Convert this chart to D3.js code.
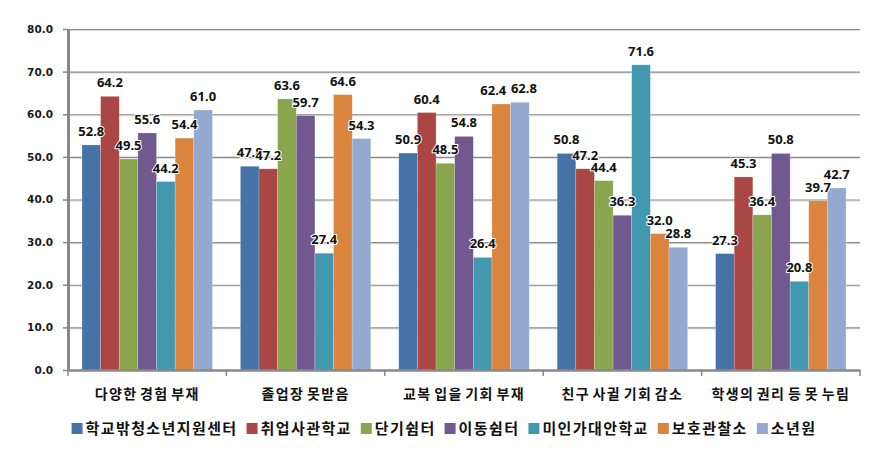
<!DOCTYPE html>
<html>
<head>
<meta charset="utf-8">
<script src="https://cdn.jsdelivr.net/npm/d3@7"></script>
<style>
  body { margin: 0; background: #fff; }
  svg { display: block; }
  .kr { font-family: "Noto Sans CJK KR", "Noto Sans", sans-serif; font-weight: bold; }
</style>
</head>
<body>
<div id="chart"></div>
<script>
var svgWidth = 885;
var svgHeight = 451;

// chart data
var categories = ["다양한 경험 부재", "졸업장 못받음", "교복 입을 기회 부재", "친구 사귈 기회 감소", "학생의 권리 등 못 누림"];
var seriesNames = ["학교밖청소년지원센터", "취업사관학교", "단기쉼터", "이동쉼터", "미인가대안학교", "보호관찰소", "소년원"];
var seriesColors = ["#4572A7", "#AA4643", "#89A54E", "#71588F", "#4198AF", "#DB843D", "#93A9CF"];
var values = [
  [52.8, 47.8, 50.9, 50.8, 27.3],
  [64.2, 47.2, 60.4, 47.2, 45.3],
  [49.5, 63.6, 48.5, 44.4, 36.4],
  [55.6, 59.7, 54.8, 36.3, 50.8],
  [44.2, 27.4, 26.4, 71.6, 20.8],
  [54.4, 64.6, 62.4, 32.0, 39.7],
  [61.0, 54.3, 62.8, 28.8, 42.7]
];
var yTicks = [0, 10, 20, 30, 40, 50, 60, 70, 80];

// small label nudges where the original pushed crowded labels apart ("series|category": px)
var labelNudge = { "보호관찰소|교복 입을 기회 부재": -8, "소년원|교복 입을 기회 부재": 4 };

var plot = { left: 68, right: 860, top: 29, bottom: 370 };

var svg = d3.select("#chart").append("svg")
  .attr("width", svgWidth)
  .attr("height", svgHeight);

var x0 = d3.scaleBand().domain(categories).range([plot.left, plot.right]).padding(0);
var x1 = d3.scaleBand().domain(seriesNames).range([0, x0.bandwidth()])
  .paddingInner(0).paddingOuter(0.75);
var y = d3.scaleLinear().domain([0, 80]).range([plot.bottom, plot.top]);

// gridlines
var grid = svg.append("g");
grid.selectAll("line.g2")
  .data(yTicks.slice(1))
  .enter().append("line")
  .attr("x1", plot.left).attr("x2", plot.right)
  .attr("y1", function(d) { return y(d) + 1.5; }).attr("y2", function(d) { return y(d) + 1.5; })
  .attr("stroke", "#dcdcdc").attr("stroke-width", 1);
grid.selectAll("line.g1")
  .data(yTicks.slice(1))
  .enter().append("line")
  .attr("x1", plot.left).attr("x2", plot.right)
  .attr("y1", function(d) { return y(d) + 0.5; }).attr("y2", function(d) { return y(d) + 0.5; })
  .attr("stroke", "#8a8a8a").attr("stroke-width", 1.2);

// bars
var rows = [];
seriesNames.forEach(function(s, i) {
  categories.forEach(function(c, j) {
    rows.push({ series: s, cat: c, value: values[i][j], color: seriesColors[i] });
  });
});

svg.append("g").selectAll("rect")
  .data(rows)
  .enter().append("rect")
  .attr("x", function(d) { return x0(d.cat) + x1(d.series); })
  .attr("y", function(d) { return y(d.value); })
  .attr("width", x1.bandwidth())
  .attr("height", function(d) { return y(0) - y(d.value); })
  .attr("fill", function(d) { return d.color; })
  .attr("stroke", "rgba(255,255,255,0.35)")
  .attr("stroke-width", 0.6);

// axes
var leftAxis = d3.axisLeft(y).tickValues(yTicks).tickFormat(d3.format(".1f")).tickSize(5).tickSizeOuter(0);
var yAxis = svg.append("g")
  .attr("transform", "translate(" + plot.left + ",0)")
  .call(leftAxis);
yAxis.select(".domain").attr("stroke", "#888").attr("stroke-width", 3);
yAxis.selectAll(".tick line").attr("stroke", "#888").attr("stroke-width", 1.5);
yAxis.selectAll(".tick text")
  .attr("x", -15)
  .style("font-family", "DejaVu Sans, sans-serif")
  .style("font-weight", "bold")
  .style("font-size", "10.5px")
  .attr("fill", "#1a1a1a");

var bottomAxis = d3.axisBottom(x0).tickSize(0).tickSizeOuter(0);
var xAxis = svg.append("g")
  .attr("transform", "translate(0," + plot.bottom + ")")
  .call(bottomAxis);
xAxis.select(".domain").attr("stroke", "#888").attr("stroke-width", 2.5);
xAxis.selectAll(".tick text")
  .attr("class", "kr")
  .attr("y", 0).attr("dy", "29px")
  .style("font-size", "14px")
  .style("letter-spacing", "1.4px")
  .style("word-spacing", "-2px")
  .attr("fill", "#111");

// category separator ticks
svg.append("g").selectAll("line")
  .data(categories.concat(["end"]))
  .enter().append("line")
  .attr("x1", function(d, i) { return i < categories.length ? x0(d) : plot.right; })
  .attr("x2", function(d, i) { return i < categories.length ? x0(d) : plot.right; })
  .attr("y1", plot.bottom).attr("y2", plot.bottom + 6)
  .attr("stroke", "#888").attr("stroke-width", 1.5);

// value labels
svg.append("g").selectAll("text")
  .data(rows)
  .enter().append("text")
  .attr("x", function(d) {
    var n = labelNudge[d.series + "|" + d.cat] || 0;
    return x0(d.cat) + x1(d.series) + x1.bandwidth() / 2 + n;
  })
  .attr("y", function(d) { return y(d.value) - 9; })
  .attr("text-anchor", "middle")
  .style("font-family", "Noto Sans, sans-serif")
  .style("font-weight", "bold")
  .style("font-size", "13px")
  .style("paint-order", "stroke")
  .attr("stroke", "#fff").attr("stroke-width", 2)
  .attr("fill", "#111")
  .text(function(d) { return d.value.toFixed(1); });

// legend
var legend = svg.append("g");
var items = legend.selectAll("g")
  .data(seriesNames)
  .enter().append("g");
items.append("rect")
  .attr("width", 11).attr("height", 11)
  .attr("y", 423)
  .attr("fill", function(d, i) { return seriesColors[i]; });
items.append("text")
  .attr("class", "kr")
  .attr("x", 14).attr("y", 434)
  .style("font-size", "15px")
  .style("letter-spacing", "1.4px")
  .attr("fill", "#111")
  .text(function(d) { return d; });

var offset = 0;
var positions = [];
items.each(function() {
  positions.push(offset);
  var w = d3.select(this).select("text").node().getBBox().width;
  offset += 14 + w + 9;
});
var totalWidth = offset - 9;
var startX = (68 + 820) / 2 - totalWidth / 2;
items.attr("transform", function(d, i) { return "translate(" + (startX + positions[i]) + ",0)"; });
</script>
</body>
</html>
